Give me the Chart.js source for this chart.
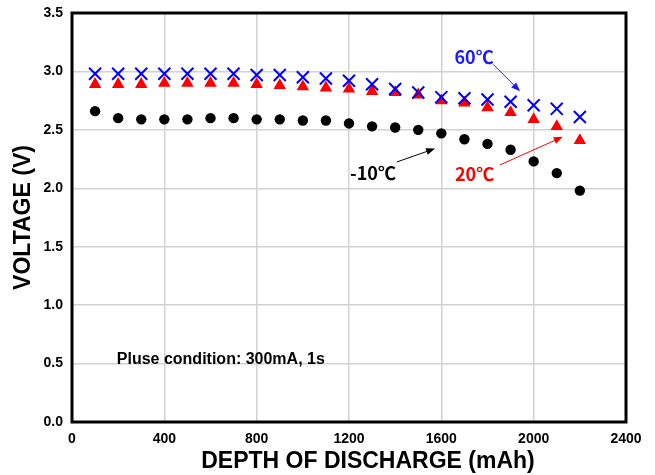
<!DOCTYPE html>
<html>
<head>
<meta charset="utf-8">
<script src="https://cdn.jsdelivr.net/npm/chart.js@4/dist/chart.umd.min.js"></script>
<style>
  html, body { margin: 0; padding: 0; background: #fff; }
  #wrap { width: 655px; height: 475px; }
</style>
</head>
<body>
<div id="wrap"><canvas id="chart" width="655" height="475"></canvas></div>
<script>
// depth of discharge (mAh) and pulse voltage (V) per temperature
const depth = [100, 200, 300, 400, 500, 600, 700, 800, 900, 1000, 1100,
               1200, 1300, 1400, 1500, 1600, 1700, 1800, 1900, 2000, 2100, 2200];
const volt60 = [2.98, 2.98, 2.98, 2.98, 2.98, 2.98, 2.98, 2.97, 2.97, 2.95, 2.94,
                2.92, 2.89, 2.85, 2.82, 2.78, 2.77, 2.76, 2.74, 2.71, 2.68, 2.61];
const volt20 = [2.89, 2.89, 2.89, 2.90, 2.90, 2.90, 2.90, 2.89, 2.88, 2.87, 2.86,
                2.85, 2.83, 2.82, 2.80, 2.75, 2.73, 2.69, 2.65, 2.59, 2.53, 2.41];
const voltMinus10 = [2.66, 2.60, 2.59, 2.59, 2.59, 2.60, 2.60, 2.59, 2.59, 2.58, 2.58,
                     2.555, 2.53, 2.52, 2.50, 2.47, 2.42, 2.38, 2.33, 2.23, 2.13, 1.98];

const xTicks = [0, 400, 800, 1200, 1600, 2000, 2400];
const yTicks = [0, 0.5, 1.0, 1.5, 2.0, 2.5, 3.0, 3.5];

const xTitle = 'DEPTH OF DISCHARGE (mAh)';
const yTitle = 'VOLTAGE (V)';
const condition = 'Pluse condition: 300mA, 1s';

// temperature labels with arrows, in data units
const notes = [
  {text: '60\u2103', color: '#1a1aff', at: [1742, 3.12], from: [1825, 3.06], to: [1941, 2.83]},
  {text: '-10\u2103', color: '#000000', at: [1304, 2.13], from: [1407, 2.225], to: [1573, 2.34]},
  {text: '20\u2103', color: '#ff0000', at: [1744, 2.12], from: [1854, 2.20], to: [2126, 2.44]}
];

function points(ys) {
  return depth.map((d, i) => ({x: d, y: ys[i]}));
}

function arrow(ctx, x1, y1, x2, y2, color) {
  let ang = Math.atan2(y2 - y1, x2 - x1);
  ctx.save();
  ctx.strokeStyle = color;
  ctx.fillStyle = color;
  ctx.lineWidth = 1;
  ctx.beginPath();
  ctx.moveTo(x1, y1);
  ctx.lineTo(x2 - 6 * Math.cos(ang), y2 - 6 * Math.sin(ang));
  ctx.stroke();
  ctx.beginPath();
  ctx.moveTo(x2, y2);
  ctx.lineTo(x2 - 9 * Math.cos(ang) + 3.5 * Math.sin(ang), y2 - 9 * Math.sin(ang) - 3.5 * Math.cos(ang));
  ctx.lineTo(x2 - 9 * Math.cos(ang) - 3.5 * Math.sin(ang), y2 - 9 * Math.sin(ang) + 3.5 * Math.cos(ang));
  ctx.closePath();
  ctx.fill();
  ctx.restore();
}

const overlay = {
  id: 'overlay',
  beforeDatasetsDraw(chart) {
    let ctx = chart.ctx;
    let a = chart.chartArea;
    ctx.save();
    ctx.strokeStyle = '#000';
    ctx.lineWidth = 3;
    ctx.strokeRect(a.left, a.top, a.right - a.left, a.bottom - a.top);
    ctx.restore();
  },
  afterDraw(chart) {
    let ctx = chart.ctx;
    let xs = chart.scales.x;
    let ys = chart.scales.y;
    ctx.save();
    ctx.textAlign = 'center';
    ctx.textBaseline = 'middle';
    ctx.fillStyle = '#000';
    ctx.font = 'bold 23px "Liberation Sans", Arial, sans-serif';
    ctx.fillText(xTitle, 368, 462);

    ctx.textAlign = 'left';
    ctx.font = 'bold 16px "Liberation Sans", Arial, sans-serif';
    ctx.fillText(condition, xs.getPixelForValue(194), ys.getPixelForValue(0.53));

    ctx.textAlign = 'center';
    ctx.font = 'bold 18px "Noto Sans CJK KR", "Noto Sans", sans-serif';
    notes.forEach(n => {
      ctx.fillStyle = n.color;
      ctx.fillText(n.text, xs.getPixelForValue(n.at[0]), ys.getPixelForValue(n.at[1]));
      arrow(ctx, xs.getPixelForValue(n.from[0]), ys.getPixelForValue(n.from[1]),
            xs.getPixelForValue(n.to[0]), ys.getPixelForValue(n.to[1]), n.color);
    });
    ctx.restore();
  }
};

const tickFont = {family: '"Liberation Sans", Arial, sans-serif', size: 14, weight: 'bold'};
const gridColor = ctx => (ctx.tick && (ctx.index === 0 || ctx.index === ctx.chart.scales[ctx.scale.id].ticks.length - 1)) ? 'rgba(0,0,0,0)' : '#d2d2d2';

new Chart(document.getElementById('chart'), {
  type: 'scatter',
  data: {
    datasets: [
      {label: '60\u2103', data: points(volt60), pointStyle: 'crossRot', pointRadius: 8.5,
       borderColor: '#0000ff', backgroundColor: '#0000ff', pointBorderWidth: 2},
      {label: '20\u2103', data: points(volt20), pointStyle: 'triangle', pointRadius: 7.2,
       borderColor: '#ff0000', backgroundColor: '#ff0000', pointBorderWidth: 0},
      {label: '-10\u2103', data: points(voltMinus10), pointStyle: 'circle', pointRadius: 5.2,
       borderColor: '#000000', backgroundColor: '#000000', pointBorderWidth: 0}
    ]
  },
  options: {
    responsive: false,
    animation: false,
    layout: {padding: {left: 0, right: 29, top: 13, bottom: 0}},
    plugins: {legend: {display: false}, tooltip: {enabled: false}},
    scales: {
      x: {
        type: 'linear', min: 0, max: 2400,
        afterBuildTicks: s => { s.ticks = xTicks.map(v => ({value: v})); },
        afterFit: s => { s.height = 53; s.paddingLeft = 0; s.paddingRight = 0; },
        border: {display: false},
        grid: {color: gridColor, lineWidth: 1.5, drawTicks: false},
        ticks: {font: tickFont, color: '#000', padding: 9, maxRotation: 0, callback: v => String(v)}
      },
      y: {
        type: 'linear', min: 0, max: 3.5,
        afterBuildTicks: s => { s.ticks = yTicks.map(v => ({value: v})); },
        afterFit: s => { s.width = 72; s.paddingTop = 0; s.paddingBottom = 0; },
        border: {display: false},
        grid: {color: gridColor, lineWidth: 1.5, drawTicks: false},
        ticks: {font: tickFont, color: '#000', padding: 9, callback: v => v.toFixed(1)},
        title: {display: true, text: yTitle, color: '#000', padding: {top: 10, bottom: 0},
                font: {family: '"Liberation Sans", Arial, sans-serif', size: 23, weight: 'bold'}}
      }
    }
  },
  plugins: [overlay]
});
</script>
</body>
</html>
